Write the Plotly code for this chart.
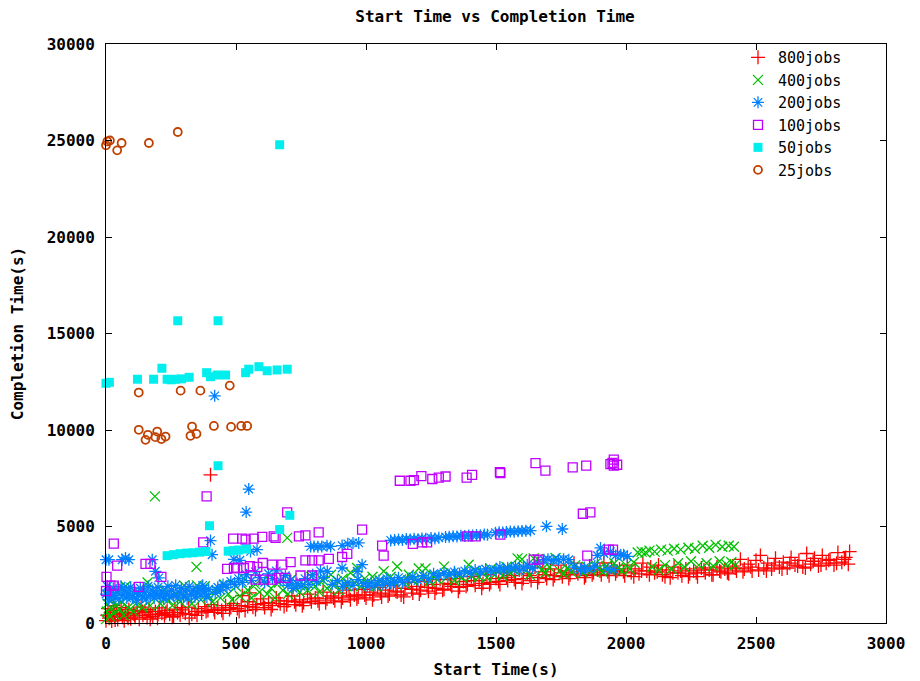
import plotly.graph_objects as go

# ---------------- data ----------------
x800 = [0, 5, 8, 12, 18, 22, 28, 33, 40, 45, 52, 58, 63, 70, 75, 82, 88, 95,
        105, 112, 120, 128, 135, 142, 150, 158, 165, 172, 180, 190, 198, 205, 215, 225, 235, 245, 255, 265,
        275, 285, 295, 305, 318, 330, 342, 355, 368, 380, 392, 402, 405, 418, 430, 445, 460, 475, 490,
        505, 520, 524, 535, 550, 553, 565, 580, 595, 610, 625, 640, 655, 670, 685, 700, 715, 730, 745, 760,
        775, 790, 805, 820, 835, 850, 865, 880, 895, 910, 925, 940, 955, 970, 985,
        1000, 1015, 1030, 1045, 1060, 1075, 1090, 1105, 1120, 1135, 1150, 1165, 1180, 1195, 1210, 1225, 1240,
        1255, 1270, 1285, 1300, 1315, 1330, 1345, 1360, 1375, 1390, 1405, 1420, 1435, 1450, 1465, 1480,
        1500, 1515, 1530, 1545, 1560, 1575, 1590, 1605, 1620, 1635, 1650, 1665, 1680, 1695, 1710, 1725, 1740,
        1755, 1770, 1785, 1800, 1815, 1830, 1845, 1860, 1875, 1890, 1905, 1915, 1930, 1945, 1960, 1975, 1990,
        2005, 2020, 2035, 2050, 2065, 2080, 2095, 2110, 2125, 2140, 2155, 2170, 2185, 2200, 2215, 2230, 2245,
        2260, 2275, 2290, 2305, 2320, 2335, 2350, 2365, 2380, 2395, 2410, 2425, 2440, 2455, 2470, 2485, 2500,
        2517, 2530, 2545, 2560, 2575, 2590, 2605, 2620, 2635, 2650, 2665, 2680, 2695, 2710, 2725, 2740, 2755,
        2770, 2785, 2800, 2815, 2830, 2845, 2855, 2860,
        15, 35, 60, 85, 110, 140, 170, 200, 230, 260, 290, 320, 350, 385, 415, 450, 480, 512, 545, 575,
        605, 635, 665, 695, 725, 755, 785, 815, 845, 875, 905, 935, 965, 995, 1025, 1055, 1085, 1115,
        1145, 1175, 1205, 1235, 1265, 1295, 1325, 1355, 1385, 1415, 1445, 1475, 1510, 1540, 1570, 1600,
        1630, 1660, 1690, 1720, 1750, 1780, 1810, 1840, 1870, 1900, 1935, 1965, 1995, 2030, 2060, 2090,
        2120, 2150, 2180, 2210, 2240, 2270, 2300, 2330, 2360, 2390, 2420, 2450, 2480, 2510, 2540, 2570,
        2600, 2630, 2660, 2690, 2720, 2750, 2780, 2810, 2840]
y800 = [120, 400, 750, 250, 550, 100, 900, 350, 650, 180, 450, 800, 300, 120, 550, 380, 700, 220,
        480, 300, 650, 200, 820, 400, 550, 280, 700, 450, 350, 600, 250, 780, 500, 380, 650, 450, 300, 720,
        550, 420, 680, 500, 820, 450, 600, 750, 520, 850, 650, 7680, 950, 550, 780, 650, 900, 700, 1000,
        750, 900, 1420, 650, 1100, 1560, 820, 950, 1250, 800, 1050, 900, 1300, 1000, 850, 1150, 1400, 950, 1200, 1050,
        1500, 1100, 1300, 1000, 1600, 1250, 1400, 1150, 1550, 1300, 1700, 1200, 1450, 1350, 1750,
        1300, 1600, 1450, 1850, 1350, 1700, 1500, 1950, 1600, 1450, 1800, 2100, 1550, 1900, 1700, 2150, 1650,
        2000, 1800, 2250, 1750, 2050, 1900, 2300, 1850, 2150, 2000, 2400, 1950, 2200, 2050, 2500, 2100,
        2300, 2000, 2600, 2200, 2450, 2100, 2750, 2300, 2550, 2200, 2900, 2350, 2650, 2300, 2800, 2450, 3000,
        2400, 2700, 2500, 3100, 2550, 2800, 2450, 2950, 2600, 2750, 2500, 3110, 2650, 2900, 2550, 2800, 2650,
        3000, 2600, 2800, 2550, 3100, 2700, 2900, 2600, 3000, 2500, 2750, 2350, 2900, 2600, 2450, 2800, 2550,
        2700, 2400, 2850, 2600, 2750, 2500, 2900, 2650, 2800, 2550, 2950, 2700, 3300, 2800, 3050, 2700, 3250,
        3500, 2850, 3100, 2800, 3350, 2900, 3150, 2850, 3400, 3000, 3250, 2900, 3600, 3050, 3350, 2950, 3500,
        3100, 3300, 3000, 3650, 3150, 3400, 3050, 3700,
        300, 150, 500, 250, 400, 600, 200, 450, 550, 350, 800, 250, 400, 600, 700, 500, 800, 600, 850, 700,
        1000, 700, 1150, 950, 1100, 900, 1250, 1150, 1050, 1300, 1100, 1400, 1250, 1450, 1200, 1550, 1400,
        1650, 1350, 1750, 1500, 1850, 1550, 1700, 2000, 1650, 1900, 2200, 1800, 2000, 2150, 2350, 2250, 2050,
        2450, 2100, 2500, 2250, 2600, 2300, 2650, 2350, 2500, 2700, 2450, 2700, 2450, 2400, 2700, 2500,
        2650, 2400, 2600, 2700, 2400, 2600, 2750, 2500, 2700, 2600, 2850, 2650, 2900, 2750, 2700, 3000,
        2800, 3100, 2950, 2850, 3200, 3000, 3250, 3100, 3300]

x400 = [0, 3, 6, 10, 14, 18, 25, 30, 38, 45, 52, 60, 68, 75, 85, 95, 105, 115, 128, 140, 150, 160, 170,
        188, 195, 210, 225, 240, 255, 270, 285, 300, 315, 330, 348, 350, 365, 380, 395, 410, 425, 440, 455,
        470, 485,
        500, 515, 530, 545, 560, 575, 590, 605, 620, 635, 650, 665, 680, 697, 700, 715, 730, 745, 760, 775,
        790, 805, 820, 835, 850, 865, 880, 895, 910, 925, 940, 955, 966, 980, 995,
        1010, 1025, 1040, 1055, 1068, 1080, 1095, 1110, 1120, 1135, 1150, 1165, 1180, 1203, 1215, 1229, 1245,
        1260, 1275, 1300, 1310, 1325, 1340, 1355, 1370, 1395, 1405, 1420, 1435, 1450, 1465, 1480,
        1495, 1510, 1525, 1540, 1555, 1570, 1583, 1600, 1615, 1630, 1645, 1660, 1675, 1690, 1705, 1729, 1745,
        1760, 1775, 1790, 1805, 1820, 1835, 1850, 1865, 1880, 1895, 1910, 1925, 1940, 1955, 1970, 1985,
        2000, 2015, 2030, 2045, 2060, 2075, 2090, 2100, 2110, 2125, 2135, 2150, 2160, 2175, 2185, 2200, 2210,
        2225, 2240, 2250, 2265, 2280, 2295, 2310, 2320, 2335, 2345, 2360, 2370, 2385, 2395, 2405, 2415, 2420]
y400 = [200, 600, 1000, 1400, 350, 800, 1200, 500, 900, 1600, 700, 1100, 400, 1900, 800, 1300, 600, 1000,
        1500, 800, 1200, 2100, 900, 6560, 1400, 1000, 1700, 1200, 900, 1500, 1100, 1950, 1300, 1000, 2910,
        1950, 1200, 1900, 1400, 1100, 1700, 1300, 2000, 1500, 1200,
        1900, 1400, 2300, 1700, 1300, 2000, 1600, 2200, 1500, 1800, 1300, 2100, 1700, 4410, 1500, 2300, 1800,
        1600, 2000, 1700, 2400, 1900, 1600, 2200, 1800, 2500, 2000, 1700, 2300, 1900, 2600, 2100, 2850, 1900,
        2300,
        2000, 2400, 1900, 2200, 2680, 2050, 2400, 2100, 2930, 2250, 2000, 2500, 2200, 2820, 2300, 2820, 2150,
        2450, 2250, 2920, 2350, 2600, 2200, 2500, 2350, 3020, 2450, 2700, 2400, 2600, 2350, 2800,
        2500, 2700, 2450, 2900, 2600, 2750, 3350, 3300, 2700, 2500, 3350, 3300, 2750, 2600, 2900, 3370, 2700,
        2550, 2850, 2650, 3000, 2750, 2600, 2900, 2700, 3050, 2800, 2650, 2950, 2750, 3100, 2850, 2700,
        3000, 2800, 3150, 3650, 3700, 3650, 3750, 2900, 3700, 2750, 3800, 3000, 3750, 2800, 3850, 3100, 3800,
        2900, 3900, 3200, 3850, 3000, 4000, 3100, 3900, 2950, 4050, 3200, 3950, 3050, 4000, 3150, 3950, 3000]

x200 = [0, 11, 62, 75, 88, 178, 190, 203,
        0, 5, 10, 15, 20, 28, 35, 42, 50, 58, 65, 72, 80, 88, 95, 102, 110, 118, 125, 132, 140, 148, 155,
        162, 170, 178, 185, 192, 200, 208, 215, 222, 230, 238, 245, 252, 260, 268, 275, 282, 290, 298, 305,
        312, 320, 328, 335, 342, 350, 358, 365, 372, 380, 388, 395, 402, 408, 418, 420, 430, 440, 450, 465,
        480, 492, 495, 515, 539, 549, 556, 581,
        510, 525, 540, 560, 575, 590, 610, 625, 640, 655, 670, 690, 700, 710, 720, 735, 750, 765, 780, 795,
        810, 825, 838, 787, 800, 815, 830, 850, 864, 851, 908, 908, 930, 950, 972, 966, 985, 870, 890, 910,
        930, 950, 970, 990,
        1095, 1110, 1125, 1140, 1155, 1170, 1185, 1200, 1215, 1230, 1250, 1265, 1280, 1306, 1320, 1335, 1350,
        1365, 1380, 1395, 1410, 1425, 1440, 1455, 1467,
        1005, 1020, 1035, 1050, 1065, 1080, 1095, 1110, 1125, 1140, 1160, 1180, 1200, 1220, 1240, 1260, 1280,
        1300, 1320, 1340, 1360, 1380, 1400, 1420, 1440, 1460, 1480,
        1498, 1512, 1526, 1540, 1555, 1570, 1585, 1600, 1615, 1633, 1694, 1755,
        1500, 1515, 1530, 1545, 1560, 1575, 1590, 1606, 1620, 1640, 1660, 1684, 1700, 1720, 1740, 1760, 1780,
        1800, 1825, 1840, 1860, 1880, 1890, 1902, 1915, 1930, 1940, 1953, 1960, 1980, 1991, 2005]
y200 = [3280, 3280, 3280, 3370, 3280, 3280, 2680, 2340,
        1500, 1900, 1200, 1700, 1400, 1800, 1300, 1600, 1250, 1900, 1450, 1700, 1300, 1550, 1850, 1350, 1650,
        1200, 1500, 1800, 1350, 1600, 1250, 1900, 1450, 1700, 1300, 1550, 1850, 1400, 1650, 1250, 1500, 1900,
        1350, 1700, 1450, 1950, 1300, 1600, 1800, 1400, 1650, 1250, 1900, 1500, 1700, 1350, 1600, 1800, 1450,
        1950, 1650, 1350, 1750, 4270, 3540, 11770, 1550, 1850, 1700, 2000, 1850, 2150, 3300, 2000, 3250, 5750,
        6940, 3710, 3800,
        2300, 2100, 2500, 2200, 2650, 2350, 2100, 2550, 2300, 2700, 2200, 2450, 1950, 2200, 1800, 2050, 1900,
        2300, 2000, 2500, 2150, 2700, 2350, 3970, 3970, 3950, 3970, 4000, 3970, 2680, 2850, 4010, 4100, 4150,
        4150, 2680, 3020, 2000, 2200, 1900, 2100, 1950, 2250, 2050,
        4280, 4300, 4320, 4300, 4350, 4330, 4360, 4340, 4380, 4360, 4400, 4380, 4420, 4460, 4470, 4490, 4480,
        4520, 4510, 4530, 4540, 4560, 4550, 4580, 4570,
        1900, 2100, 1950, 2200, 2000, 2300, 2050, 2150, 2350, 2100, 2250, 2400, 2200, 2450, 2300, 2550, 2450,
        2600, 2500, 2650, 2550, 2700, 2600, 2750, 2650, 2800, 2700,
        4680, 4700, 4690, 4720, 4740, 4730, 4760, 4770, 4780, 4790, 5010, 4870,
        2750, 2900, 2700, 2850, 2800, 2950, 2700, 2850, 3000, 2850, 3100, 3280, 3300, 3250, 3280, 3300, 3280,
        2900, 2770, 2870, 2800, 2950, 3500, 3890, 3600, 2800, 3700, 2770, 3500, 3540, 3540, 3450]

x100 = [0, 2, 17, 30, 30, 43, 126, 152, 171, 213, 374, 387,
        466, 492, 505, 530, 553, 582, 603, 639, 678, 710, 767, 793, 818, 857, 908, 928, 1068,
        489, 524, 537, 568, 601, 645, 652, 697, 742, 767, 818, 985, 1062,
        575, 607, 639, 665, 690, 748, 793,
        1180, 1216, 1235, 1389, 1421, 1517,
        1130, 1171, 1184, 1213, 1255, 1280, 1306, 1387, 1408, 1515, 1517, 1652, 1690, 1795, 1847, 1940, 1953,
        1966, 1953, 1948,
        1834, 1863, 1645, 1664, 1851, 1934, 1950]
y100 = [1650, 2390, 1940, 1940, 4110, 2970, 1870, 3060, 3060, 2390, 4180, 6560,
        2800, 2850, 2850, 2850, 2940, 2910, 3110, 3020, 3020, 3150, 3250, 3250, 3250, 3320, 3420, 3580, 3490,
        4370, 4370, 4320, 4370, 4460, 4490, 4410, 5730, 4490, 4540, 4700, 4840, 4010,
        2250, 2250, 2250, 2340, 2340, 2460, 2460,
        4100, 4180, 4180, 4490, 4490, 4580,
        7370, 7370, 7400, 7610, 7460, 7530, 7590, 7530, 7680, 7820, 7770, 8280, 7900, 8060, 8150, 8230, 8460,
        8200, 8150, 8300,
        5660, 5730, 3280, 3280, 3490, 3800, 3800]

x50 = [0, 13, 121, 183, 215, 235, 250, 267, 290, 320, 387, 402, 428, 460, 537, 549, 588, 620, 658, 697,
       276, 431, 431, 668, 398, 707, 668,
       235, 260, 285, 310, 335, 360, 385, 470, 490, 510, 540]
y50 = [12420, 12470, 12630, 12630, 13200, 12630, 12600, 12630, 12650, 12730, 12970, 12760, 12850, 12850,
       12970, 13150, 13280, 13070, 13110, 13150,
       15660, 15660, 8150, 24780, 5040, 5580, 4840,
       3490, 3540, 3590, 3620, 3640, 3670, 3710, 3720, 3750, 3780, 3830]

x25 = [0, 5, 15, 43, 60, 165, 276,
       126, 287, 363, 476,
       126, 161, 152, 197, 190, 213, 229, 331, 325, 348, 415, 481, 520, 543]
y25 = [24750, 24950, 25000, 24490, 24870, 24870, 25440,
       11940, 12040, 12040, 12300,
       10010, 9750, 9490, 9920, 9630, 9530, 9660, 10180, 9700, 9800, 10210, 10160, 10210, 10210]

x_ticks = [0, 500, 1000, 1500, 2000, 2500, 3000]
y_ticks = [0, 5000, 10000, 15000, 20000, 25000, 30000]

names = ["800jobs", "400jobs", "200jobs", "100jobs", "50jobs", "25jobs"]

# ---------------- figure ----------------
FONT = "DejaVu Sans Mono"
FS = 16
series = [
    (x800, y800, "cross-thin-open", "#ff0000", 10, 1.3),
    (x400, y400, "x-thin-open", "#00c000", 10, 1.3),
    (x200, y200, "asterisk-open", "#0080ff", 10, 1.3),
    (x100, y100, "square-open", "#c000ff", 9, 1.3),
    (x50, y50, "square", "#00eeee", 9, 0),
    (x25, y25, "circle-open", "#c04000", 8, 1.8),
]

fig = go.Figure()
for (xs, ys, sym, col, size, lw), name in zip(series, names):
    marker = dict(symbol=sym, size=size, color=col)
    if sym.endswith("open"):
        marker["line"] = dict(width=lw, color=col)
    else:
        marker["line"] = dict(width=0)
    fig.add_trace(go.Scatter(x=xs, y=ys, mode="markers", name=name,
                             marker=marker, cliponaxis=False))

axis_common = dict(
    showgrid=False, zeroline=False, showline=True, linecolor="black", linewidth=1,
    mirror="ticks", ticks="inside", ticklen=6, tickcolor="black", tickwidth=1,
    tickfont=dict(family=FONT, size=FS, color="black"), automargin=False,
)

# the page adds an 8px body margin, so the figure is 8px smaller than the window
fig.update_layout(
    width=912, height=673,
    paper_bgcolor="white", plot_bgcolor="white",
    margin=dict(l=97.5, r=34, t=35.5, b=57.5),
    title=dict(text="<b>Start Time vs Completion Time</b>", x=0.534, xanchor="center",
               y=0.988, yanchor="middle", automargin=False,
               font=dict(family=FONT, size=FS, color="black")),
    xaxis=dict(range=[0, 3000], tickvals=x_ticks, ticktext=[f"<b>{v}</b>" for v in x_ticks],
               title=dict(text="<b>Start Time(s)</b>", standoff=11,
                          font=dict(family=FONT, size=FS, color="black")),
               ticklabelstandoff=6, **axis_common),
    yaxis=dict(range=[0, 30000], tickvals=y_ticks, ticktext=[f"<b>{v}</b>" for v in y_ticks],
               title=dict(text="<b>Completion Time(s)</b>", standoff=28,
                          font=dict(family=FONT, size=FS, color="black")),
               ticklabelstandoff=7, **axis_common),
    legend=dict(x=0.95, y=1.005, xanchor="right", yanchor="top",
                bgcolor="rgba(0,0,0,0)", borderwidth=0,
                font=dict(family=FONT, size=15, color="black"),
                itemwidth=30, tracegroupgap=0),
    showlegend=True,
)

fig.write_html("out.html")
